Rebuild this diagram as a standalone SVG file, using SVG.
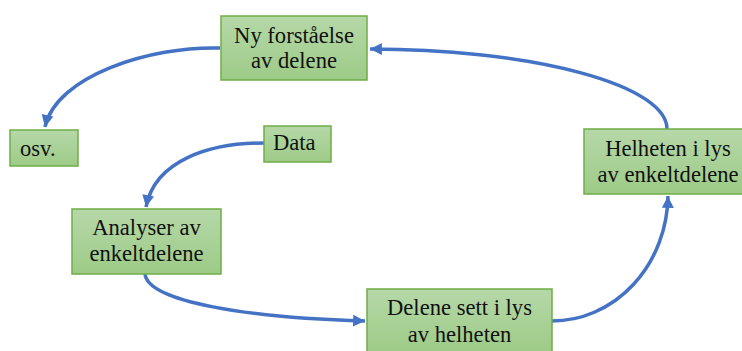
<svg xmlns="http://www.w3.org/2000/svg" width="742" height="351" viewBox="0 0 742 351">
  <style>
    .box { fill: url(#greenFill); stroke: #70ad47; stroke-width: 1.5; }
    .lbl { font-family: "Liberation Serif", "Times New Roman", serif; font-size: 22.6px; fill: #111; }
    .mid { text-anchor: middle; }
    .conn { fill: none; stroke: #4472c4; stroke-width: 3.5; marker-end: url(#arrow); }
  </style>
  <defs>
    <linearGradient id="greenFill" x1="0" y1="0" x2="0" y2="1">
      <stop offset="0" stop-color="#b6d8a8"/>
      <stop offset="1" stop-color="#9dcb87"/>
    </linearGradient>
    <marker id="arrow" viewBox="0 0 10 10" refX="10" refY="5" markerWidth="3.6" markerHeight="3.4" orient="auto" markerUnits="strokeWidth">
      <path d="M0,0 L10,5 L0,10 z" fill="#4472c4"/>
    </marker>
  </defs>

  <g id="connectors">
    <path class="conn" d="M667,129 A299,80 0 0 0 370,49"/>
    <path class="conn" d="M220,48 C150,46 56,76 45,127"/>
    <path class="conn" d="M264,143 C210,143 155,160 146,207"/>
    <path class="conn" d="M145,274 C148,302 250,318 365,321"/>
    <path class="conn" d="M552,321 A116,127 0 0 0 668,196"/>
  </g>

  <g id="node-ny-forstaaelse">
    <rect class="box" x="221" y="16" width="146" height="64"/>
    <text class="lbl mid" x="294" y="43">Ny forståelse</text>
    <text class="lbl mid" x="294" y="68">av delene</text>
  </g>

  <g id="node-osv">
    <rect class="box" x="10" y="130" width="68" height="36"/>
    <text class="lbl" x="20" y="156">osv.</text>
  </g>

  <g id="node-data">
    <rect class="box" x="264" y="126" width="67" height="36"/>
    <text class="lbl" x="273" y="150">Data</text>
  </g>

  <g id="node-analyser">
    <rect class="box" x="72" y="209" width="149" height="65"/>
    <text class="lbl mid" x="146.5" y="235">Analyser av</text>
    <text class="lbl mid" x="146.5" y="261">enkeltdelene</text>
  </g>

  <g id="node-delene">
    <rect class="box" x="367" y="289" width="185" height="64"/>
    <text class="lbl mid" x="459.5" y="315">Delene sett i lys</text>
    <text class="lbl mid" x="459.5" y="342">av helheten</text>
  </g>

  <g id="node-helheten">
    <rect class="box" x="584" y="129" width="168" height="65"/>
    <text class="lbl mid" x="668" y="156">Helheten i lys</text>
    <text class="lbl mid" x="668" y="182">av enkeltdelene</text>
  </g>
</svg>
